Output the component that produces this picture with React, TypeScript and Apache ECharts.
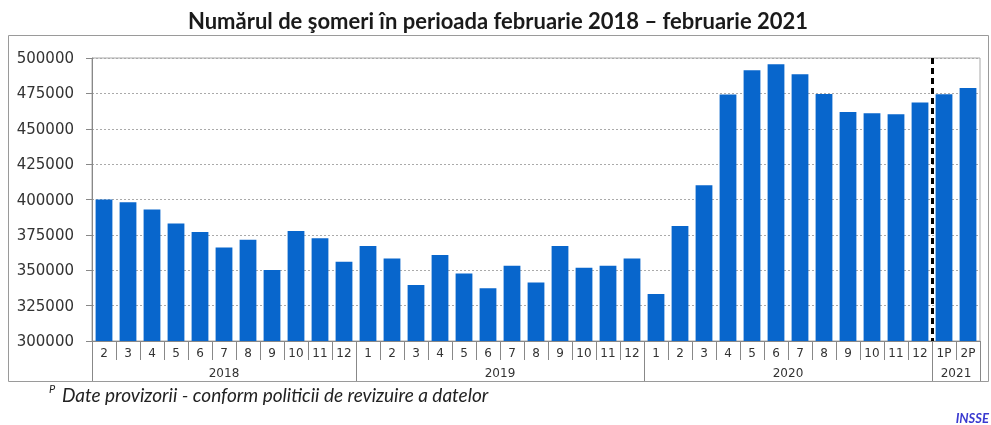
import React, { useEffect, useRef } from "react";
import * as echarts from "echarts";

const monthLabels = [
  "2", "3", "4", "5", "6", "7", "8", "9", "10", "11", "12",
  "1", "2", "3", "4", "5", "6", "7", "8", "9", "10", "11", "12",
  "1", "2", "3", "4", "5", "6", "7", "8", "9", "10", "11", "12",
  "1P", "2P",
];

const unemployed = [
  400000, 398000, 393000, 383000, 377000, 366000, 371500, 350200, 377800, 372600, 356000,
  367200, 358300, 339500, 360800, 347700, 337300, 353200, 341400, 367200, 351800, 353200, 358300,
  333200, 381300, 410100, 474200, 491300, 495500, 488500, 474500, 461800, 460900, 460200, 468500,
  474300, 478800,
];

const years = ["2018", "2019", "2020", "2021"];
const yearMonthCounts = [11, 12, 12, 2];

const yTicks = { min: 300000, max: 500000, interval: 25000 };

const titleText = "Numărul de şomeri în perioada februarie 2018 – februarie 2021";
const footnoteText = "Date provizorii - conform politicii de revizuire a datelor";
const sourceText = "INSSE";

const AXIS_FONT = "'DejaVu Sans', Verdana, sans-serif";

export default function App() {
  const ref = useRef<HTMLDivElement>(null);

  useEffect(() => {
    if (!ref.current) return;
    const chart = echarts.init(ref.current, null, { renderer: "svg" });

    const slotCount = monthLabels.length * 2 + 1;
    const yearSlots: string[] = new Array(slotCount).fill("");
    const boundarySlots: number[] = [0];
    let start = 0;
    years.forEach((y, i) => {
      yearSlots[start * 2 + yearMonthCounts[i]] = y;
      start += yearMonthCounts[i];
      boundarySlots.push(start * 2);
    });
    const provisionalSlot = boundarySlots[boundarySlots.length - 2];

    chart.setOption({
      animation: false,
      textStyle: { fontFamily: AXIS_FONT },
      title: {
        text: titleText,
        left: 493,
        textAlign: "center",
        top: 4,
        textStyle: {
          fontFamily: "Lato",
          fontWeight: "bold",
          fontSize: 22,
          color: "#1a1a1a",
        },
      },
      grid: {
        left: 92,
        right: 11,
        top: 58,
        bottom: 84,
        show: true,
        borderColor: "#a8a8a8",
        borderWidth: 1,
        containLabel: false,
      },
      xAxis: [
        {
          type: "category",
          data: monthLabels,
          position: "bottom",
          axisLine: { show: true, lineStyle: { color: "#888", width: 1 } },
          axisTick: { show: true, length: 19, lineStyle: { color: "#888" } },
          axisLabel: {
            interval: 0,
            margin: 6,
            fontFamily: AXIS_FONT,
            fontSize: 12,
            color: "#333",
          },
          splitLine: { show: false },
        },
        {
          type: "category",
          data: yearSlots,
          position: "bottom",
          boundaryGap: false,
          axisLine: { show: false },
          axisTick: {
            show: true,
            length: 40,
            interval: (i: number) => boundarySlots.includes(i),
            lineStyle: { color: "#888" },
          },
          axisLabel: {
            interval: (i: number, v: string) => v !== "",
            margin: 26,
            fontFamily: AXIS_FONT,
            fontSize: 12,
            color: "#333",
          },
          splitLine: { show: false },
        },
      ],
      yAxis: {
        type: "value",
        min: yTicks.min,
        max: yTicks.max,
        interval: yTicks.interval,
        axisLine: { show: true, lineStyle: { color: "#888" } },
        axisTick: { show: true, length: 6, lineStyle: { color: "#888" } },
        axisLabel: {
          margin: 18,
          fontFamily: AXIS_FONT,
          fontSize: 15,
          color: "#333",
          formatter: (v: number) => String(v),
        },
        splitLine: { show: true, lineStyle: { type: [2, 2], color: "#aaa", width: 1 } },
      },
      series: [
        {
          type: "bar",
          xAxisIndex: 0,
          data: unemployed,
          barCategoryGap: "30%",
          itemStyle: { color: "#0866cc" },
        },
        {
          type: "line",
          xAxisIndex: 1,
          data: [],
          silent: true,
          markLine: {
            silent: true,
            symbol: "none",
            label: { show: false },
            lineStyle: { color: "#000", type: [6, 4], width: 3 },
            data: [
              [
                { coord: [provisionalSlot, yTicks.max] },
                { coord: [provisionalSlot, yTicks.min] },
              ],
            ],
          },
        },
      ],
      graphic: [
        {
          type: "rect",
          shape: { x: 8.5, y: 35.5, width: 980, height: 346 },
          style: { fill: "none", stroke: "#9a9a9a", lineWidth: 1 },
          z: -1,
        },
        {
          type: "text",
          x: 49,
          y: 383,
          style: {
            text: "P",
            font: "italic 11px Lato",
            fill: "#222",
          },
        },
        {
          type: "text",
          x: 62,
          y: 385,
          style: {
            text: footnoteText,
            font: "italic 19px Lato",
            fill: "#222",
          },
        },
        {
          type: "text",
          x: 989,
          y: 411,
          style: {
            text: sourceText,
            font: "italic bold 13px Lato",
            fill: "#3a3ad0",
            textAlign: "right",
          },
        },
      ],
    });

    return () => chart.dispose();
  }, []);

  return (
    <div
      ref={ref}
      style={{ position: "fixed", left: 0, top: 0, width: 991, height: 425 }}
    />
  );
}
